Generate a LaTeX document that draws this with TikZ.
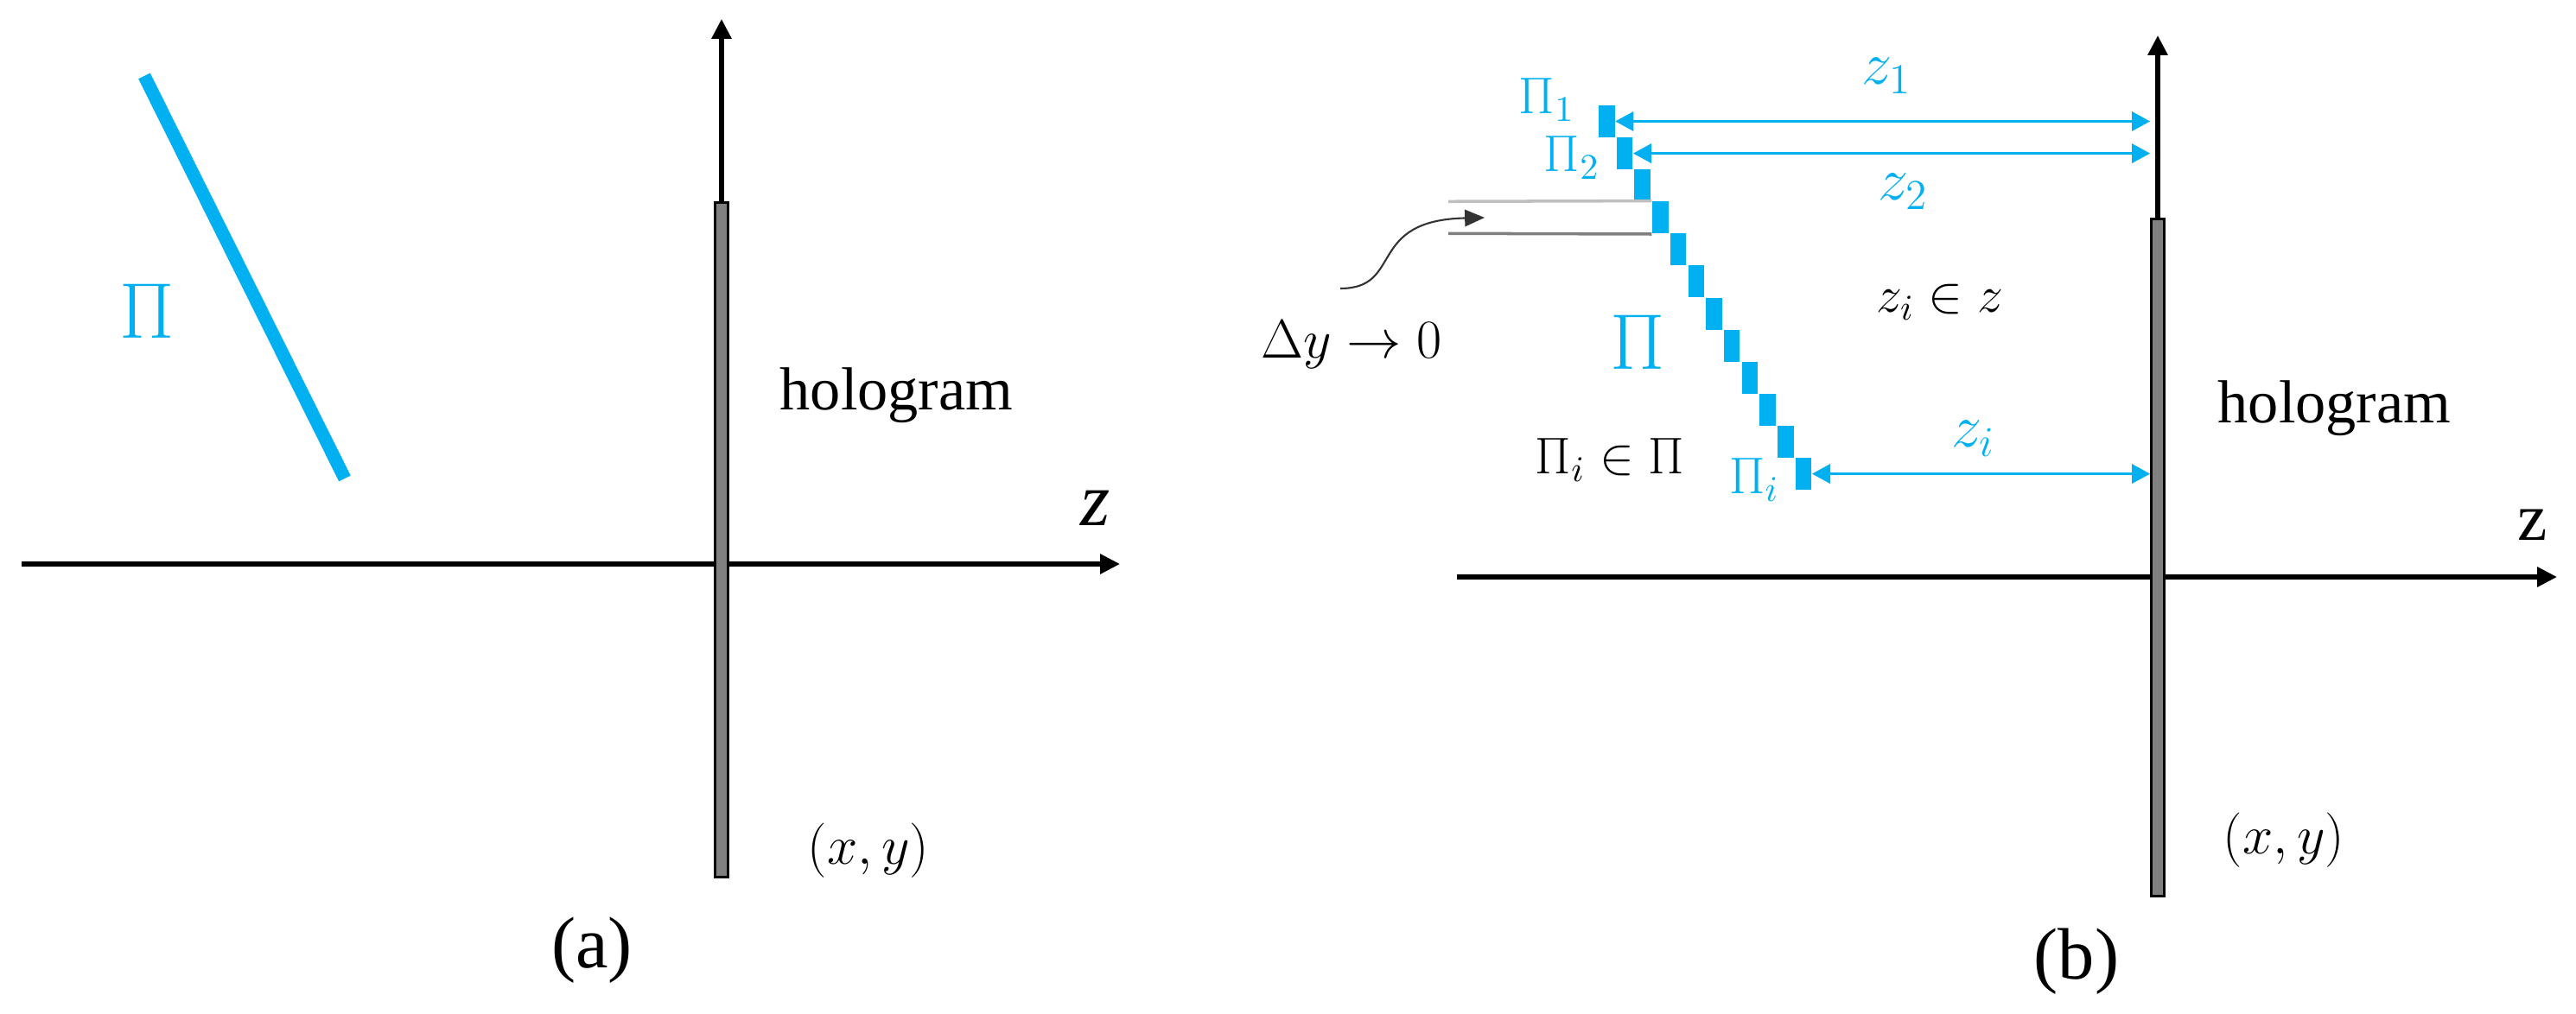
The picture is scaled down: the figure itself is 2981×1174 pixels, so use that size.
\RequirePackage{fix-cm}
\documentclass[tikz,border=0pt]{standalone}
\usepackage{fontspec}
\setmainfont{Liberation Serif}
\usetikzlibrary{arrows.meta}
\definecolor{pblue}{HTML}{00B0F0}
\definecolor{bargray}{HTML}{808080}
\definecolor{lgray}{HTML}{BFBFBF}
\definecolor{dgray}{HTML}{7F7F7F}
\begin{document}
\begin{tikzpicture}[x=0.01cm,y=-0.01cm,
  axisline/.style={line width=1.5pt,-{Triangle[length=6.5pt,width=6.3pt]}},
  holobar/.style={draw=black,fill=bargray,line width=0.8pt,minimum width=0.15cm,inner sep=0pt},
  blk/.style={fill=pblue,draw=none,minimum width=0.185cm,minimum height=0.37cm,inner sep=0pt},
  distarrow/.style={draw=pblue,line width=0.9pt,{Triangle[length=6pt,width=6.3pt]}-{Triangle[length=6pt,width=6.3pt]}},
  bluelbl/.style={text=pblue,inner sep=0pt},
  blacklbl/.style={text=black,inner sep=0pt},
]
\useasboundingbox (0,0) rectangle (2981,1174);

% ---------- panel (a) ----------
\coordinate (aL) at (25,653);
\coordinate (aR) at (1296,653);
\draw[axisline] (aL) -- (aR);
\node[holobar,minimum height=7.8cm] (barA) at (835,625) {};
\coordinate (aTop) at (835,22);
\draw[axisline] (barA.north) -- (aTop);
\coordinate (pA1) at (167,88);
\coordinate (pA2) at (399,554);
\draw[pblue,line width=4.3pt] (pA1) -- (pA2);
\node[bluelbl,font=\fontsize{26}{30}\selectfont] (PiA) at (170,360) {$\Pi$};
\node[blacklbl,font=\fontsize{20}{24}\selectfont,anchor=base west] (holoA) at (902,475) {hologram};
\node[blacklbl,font=\fontsize{25}{30}\selectfont\itshape] (zA) at (1268,588) {z};
\node[blacklbl,font=\fontsize{18}{22}\selectfont] (xyA) at (1005,985) {$(x,y)$};
\node[blacklbl,font=\fontsize{24}{28}\selectfont] (capA) at (685,1100) {(a)};

% ---------- panel (b) ----------
\coordinate (bL) at (1686,668);
\coordinate (bR) at (2959,668);
\draw[axisline] (bL) -- (bR);
\node[holobar,minimum height=7.83cm] (barB) at (2497,645.5) {};
\coordinate (bTop) at (2497,41);
\draw[axisline] (barB.north) -- (bTop);

\foreach \k in {0,...,11}
  \node[blk] (s\k) at ({1859.25+20.7*\k},{140.5+37.1*\k}) {};

\draw[distarrow] (s0.east) -- (s0.east -| barB.west);
\draw[distarrow] (s1.east) -- (s1.east -| barB.west);
\draw[distarrow] (s11.east) -- (s11.east -| barB.west);

\coordinate (g1) at (1676,233.3);
\coordinate (g2) at (1676,270.3);
\draw[lgray,line width=1pt] (g1) -- (s3.north west);
\draw[dgray,line width=1pt] (g2) -- (s3.south west);

\coordinate (cS) at (1551,334);
\coordinate (cE) at (1718,252);
\draw[black!80,line width=0.6pt,-{Triangle[length=6.5pt,width=5.5pt]}] (cS) .. controls (1625,334) and (1580,255) .. (cE);

\node[bluelbl,font=\fontsize{17}{20}\selectfont] (L1) at (1790,116) {$\Pi_1$};
\node[bluelbl,font=\fontsize{17}{20}\selectfont] (L2) at (1819,183) {$\Pi_2$};
\node[bluelbl,font=\fontsize{17}{20}\selectfont] (Li) at (2030,556) {$\Pi_i$};
\node[bluelbl,font=\fontsize{20}{24}\selectfont] (z1) at (2183,88) {$z_1$};
\node[bluelbl,font=\fontsize{20}{24}\selectfont] (z2) at (2202,222) {$z_2$};
\node[bluelbl,font=\fontsize{20}{24}\selectfont] (zi) at (2284,508) {$z_i$};
\node[bluelbl,font=\fontsize{26}{30}\selectfont] (PiB) at (1895,396) {$\Pi$};
\node[blacklbl,font=\fontsize{17}{20}\selectfont] (mem) at (1863,533) {$\Pi_i\in\Pi$};
\node[blacklbl,font=\fontsize{18}{22}\selectfont] (dy) at (1564,399) {$\Delta y\to 0$};
\node[blacklbl,font=\fontsize{17}{20}\selectfont] (zin) at (2245,350) {$z_i\in z$};
\node[blacklbl,font=\fontsize{20}{24}\selectfont,anchor=base west] (holoB) at (2566,490) {hologram};
\node[blacklbl,font=\fontsize{22}{26}\selectfont] (zB) at (2931,608) {z};
\node[blacklbl,font=\fontsize{18}{22}\selectfont] (xyB) at (2643,973) {$(x,y)$};
\node[blacklbl,font=\fontsize{24}{28}\selectfont] (capB) at (2403,1113) {(b)};
\end{tikzpicture}
\end{document}
